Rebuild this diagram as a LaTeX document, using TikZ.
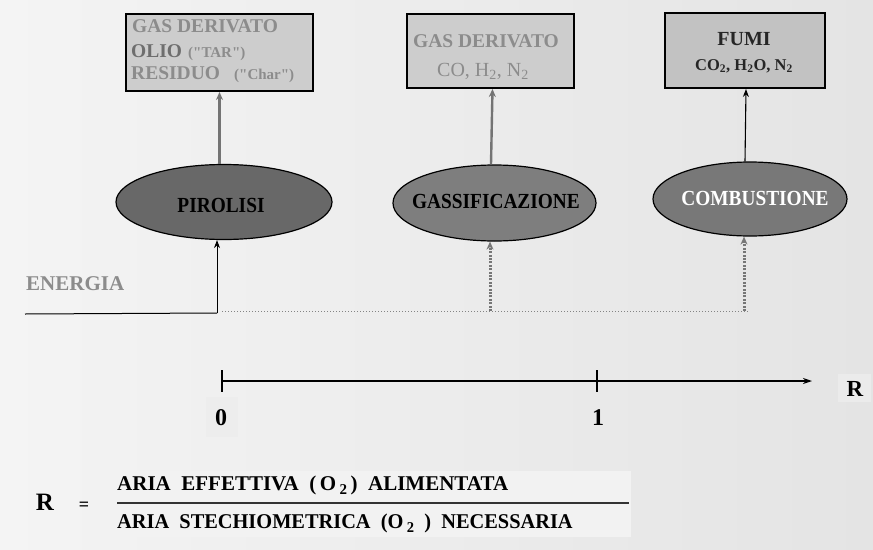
\documentclass[tikz,border=0pt]{standalone}
\usepackage{fontspec}
\setmainfont{Liberation Serif}
\usetikzlibrary{arrows.meta,shapes.geometric,calc}
\definecolor{bgA}{HTML}{F4F4F4}
\definecolor{bgB}{HTML}{E4E4E4}
\definecolor{boxfill}{HTML}{CDCDCD}
\definecolor{boxfillB}{HTML}{C2C2C2}
\definecolor{txtgray}{HTML}{8C8C8C}
\definecolor{oilgray}{HTML}{6E6E6E}
\definecolor{ellA}{HTML}{686868}
\definecolor{ellB}{HTML}{7E7E7E}
\definecolor{ellC}{HTML}{787878}
\definecolor{arrgray}{HTML}{747474}
\definecolor{dotgray}{HTML}{767676}
\newcommand{\fs}[1]{\fontsize{#1}{#1}\selectfont}
\newcommand{\narrow}[1]{\scalebox{0.9}[1]{#1}}
% straight double quote, set as a glyph so the TeX mapping keeps it straight
\newcommand{\qt}{\XeTeXglyph\XeTeXcharglyph"22\relax}
\tikzset{
  prodbox/.style={draw=black, line width=2pt, fill=boxfill, inner sep=0pt, anchor=north west},
  boxline/.style={inner sep=0pt, anchor=base, font=\bfseries\fs{19.5}},
  proc/.style={ellipse, draw=black, line width=1.2pt, inner sep=0pt, font=\bfseries\fs{21.5}},
  uparrow/.style={draw=arrgray, line width=2.4pt, -{Stealth[length=8pt,width=7pt]}},
  energyarrow/.style={draw=black, line width=1pt, -{Stealth[length=8pt,width=6pt]}},
  dotarrow/.style={draw=dotgray, line width=3pt, dash pattern=on 2pt off 1.4pt, -{Stealth[length=8pt,width=7pt]}},
  lbl/.style={font=\bfseries\fs{24}, inner sep=1pt},
}
\begin{document}
\begin{tikzpicture}[x=1pt, y=-1pt]
  % background
  \useasboundingbox (0,0) rectangle (873,549);
  \shade[left color=bgA, right color=bgB] (0,0) rectangle (873,549);

  % product boxes
  \node[prodbox, minimum width=187pt, minimum height=77pt] (b1) at (125,13) {};
  \node[boxline, anchor=base west, text=txtgray] (b1a) at (132,32) {GAS DERIVATO};
  \node[boxline, anchor=base west, text=oilgray] (b1b) at (131,57) {OLIO};
  \node[boxline, anchor=base west, text=txtgray, font=\bfseries\fs{15}] (b1c) at (188,57) {(\qt TAR\qt)};
  \node[boxline, anchor=base west, text=txtgray] (b1d) at (131,79) {RESIDUO};
  \node[boxline, anchor=base west, text=txtgray, font=\bfseries\fs{15}] (b1e) at (234,79) {(\qt Char\qt)};

  \node[prodbox, minimum width=167pt, minimum height=74pt] (b2) at (406,13) {};
  \node[boxline, text=txtgray] (b2a) at (486,47) {GAS DERIVATO};
  \node[boxline, text=txtgray, font=\fs{20}] (b2b) at (483,76) {CO, H\textsubscript{2}, N\textsubscript{2}};

  \node[prodbox, fill=boxfillB, minimum width=160pt, minimum height=75pt] (b3) at (664,12) {};
  \node[boxline, text=black!85, font=\bfseries\fs{20}] (b3a) at (744,45) {FUMI};
  \node[boxline, text=black!85, font=\bfseries\fs{16.5}] (b3b) at (744,70) {CO\textsubscript{2}, H\textsubscript{2}O, N\textsubscript{2}};

  % process ellipses
  \node[proc, fill=ellA, minimum width=216pt, minimum height=75pt] (pir) at (224,202) {};
  \node[inner sep=0pt, font=\bfseries\fs{21.5}] (pirt) at (221,205) {\narrow{PIROLISI}};
  \node[proc, fill=ellB, minimum width=203pt, minimum height=76pt] (gas) at (494.5,203) {};
  \node[inner sep=0pt, font=\bfseries\fs{21.5}] (gast) at (496,201) {\narrow{GASSIFICAZIONE}};
  \node[proc, fill=ellC, minimum width=194pt, minimum height=74pt] (comb) at (750,199) {};
  \node[inner sep=0pt, font=\bfseries\fs{21.5}, text=white] (combt) at (755,198) {\narrow{COMBUSTIONE}};

  % products leaving each process
  \draw[uparrow] (pir.north -| b1.south) -- (b1.south);
  \draw[uparrow] ($(gas.north)+(-3.5,0)$) -- ($(b2.south)+(2,0)$);
  \draw[draw=black, line width=1.1pt, -{Stealth[length=8pt,width=6pt]}] ($(comb.north)+(-5,0)$) -- ($(b3.south)+(1,0)$);

  % energy supply
  \node[font=\bfseries\fs{21}, text=txtgray, anchor=base west, inner sep=0pt] (en) at (26,290) {ENERGIA};
  \coordinate (e0) at (25,314);
  \coordinate (ej) at (217,313);
  \coordinate (eg) at (490,311);
  \coordinate (ec) at (744,311);
  \draw[black, line width=1pt] (e0) -- (ej);
  \draw[energyarrow] (ej) -- (ej |- pir.south);
  \draw[dotgray!90, line width=1pt, dotted] ($(ej)+(5,-2)$) -- ($(ec)+(4,0)$);
  \draw[dotarrow] (eg) -- (eg |- gas.south);
  \draw[dotarrow] (ec) -- (ec |- comb.south);

  % R axis
  \coordinate (a0) at (222,381);
  \coordinate (a1) at (597,381);
  \coordinate (aend) at (812,381);
  \draw[black, line width=1.2pt, -{Stealth[length=9pt,width=6pt]}] (a0) -- (aend);
  \draw[black, line width=1.4pt] ($(a0)+(0,-11)$) -- ($(a0)+(0,11)$);
  \draw[black, line width=1.4pt] ($(a1)+(0,-11)$) -- ($(a1)+(0,11)$);
  \fill[black!7] (206,397) rectangle (238,437);
  \node[lbl] (l0) at (221,418) {0};
  \node[lbl] (l1) at (598,418) {1};
  \fill[white!92!black] (838,374) rectangle (871,402);
  \node[lbl, font=\bfseries\fs{23}] (lr) at (855,389) {R};

  % definition of R
  \fill[white!95!black] (111,471) rectangle (631,537);
  \node[font=\bfseries\fs{25}, inner sep=0pt] (rr) at (45,502) {R};
  \node[font=\bfseries\fs{18}, inner sep=0pt] (eq) at (84,506) {=};
  \node[anchor=base west, inner sep=0pt, font=\bfseries\fs{21}] (num) at (117,490)
    {ARIA\ \ EFFETTIVA\ \ (\,O\,\raisebox{-0.45ex}{\fs{15}2}\,)\ \ ALIMENTATA};
  \node[anchor=base west, inner sep=0pt, font=\bfseries\fs{21}] (den) at (117,528)
    {\scalebox{0.97}[1]{ARIA\ \ STECHIOMETRICA\ \ (O\,\raisebox{-0.45ex}{\fs{15}2}\ \ )\ \ NECESSARIA}};
  \draw[black!80, line width=1.6pt] (117,503) -- (629,503);
\end{tikzpicture}
\end{document}
